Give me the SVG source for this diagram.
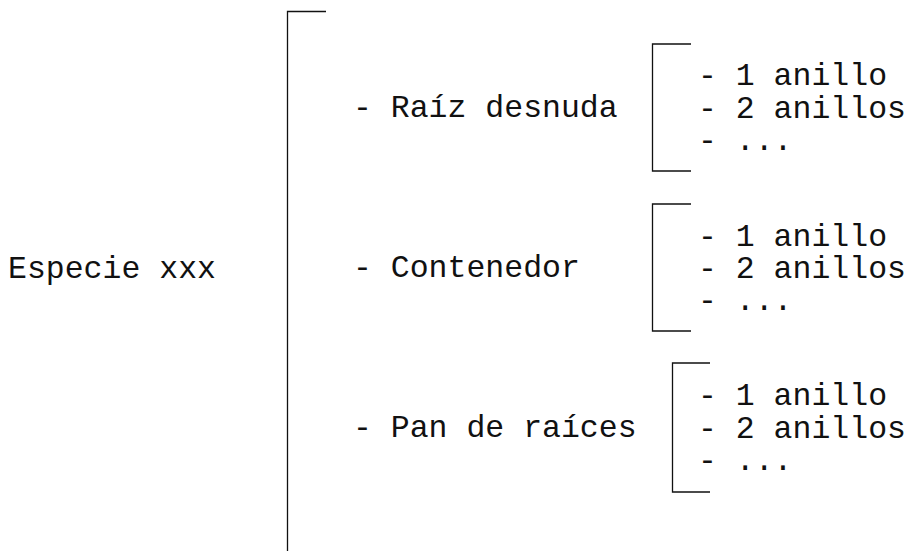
<svg xmlns="http://www.w3.org/2000/svg" width="912" height="551" viewBox="0 0 912 551">
<style>
text{font-family:"Liberation Mono","Courier New",monospace;font-size:31.5px;fill:#111}
.br{fill:none;stroke:#111;stroke-width:1.3}
</style>
<rect width="912" height="551" fill="#fff"/>
<g id="root"><text x="8" y="278">Especie xxx</text></g>
<g id="connectors">
<path class="br" d="M326,11.5 H287.5 V551"/>
<path class="br" d="M691,44 H652.5 V171 H691"/>
<path class="br" d="M691,204 H652.5 V331 H691"/>
<path class="br" d="M710,363 H672.5 V492 H710"/>
</g>
<g id="raiz"><text x="353" y="117">- Raíz desnuda</text></g>
<g id="contenedor"><text x="353" y="277">- Contenedor</text></g>
<g id="pan"><text x="353" y="437">- Pan de raíces</text></g>
<g id="raiz-items">
<text x="698" y="85">- 1 anillo</text>
<text x="698" y="118">- 2 anillos</text>
<text x="698" y="150">- ...</text>
</g>
<g id="contenedor-items">
<text x="698" y="246">- 1 anillo</text>
<text x="698" y="278">- 2 anillos</text>
<text x="698" y="310">- ...</text>
</g>
<g id="pan-items">
<text x="698" y="405">- 1 anillo</text>
<text x="698" y="438">- 2 anillos</text>
<text x="698" y="470">- ...</text>
</g>
</svg>
